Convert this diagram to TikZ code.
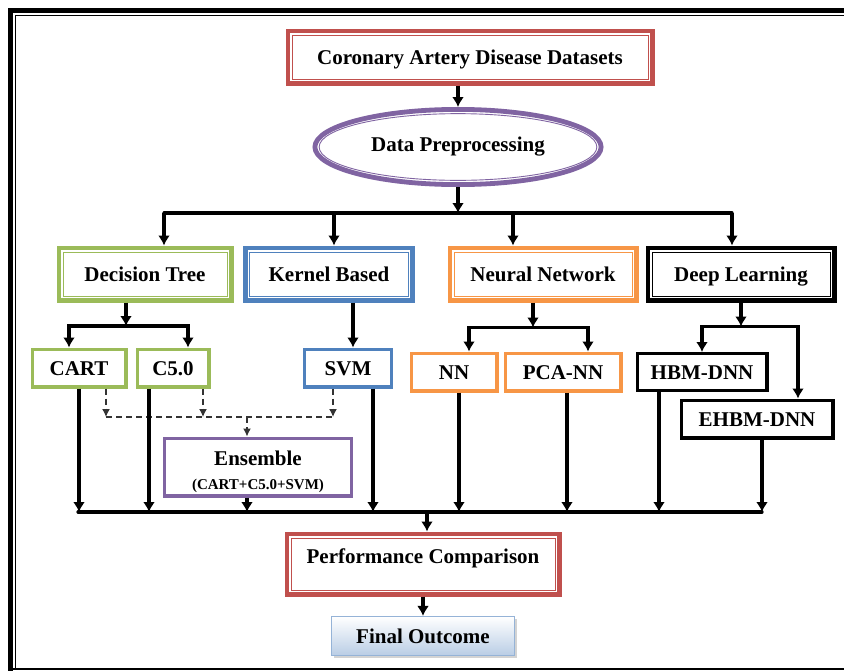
\documentclass[tikz,border=0pt]{standalone}
\usepackage{fontspec}
\setmainfont{Liberation Serif}
\usetikzlibrary{arrows.meta,shapes.geometric,shadows}

\definecolor{cadred}{HTML}{C0504D}
\definecolor{prepviolet}{HTML}{8064A2}
\definecolor{treegreen}{HTML}{9BBB59}
\definecolor{kernelblue}{HTML}{4F81BD}
\definecolor{nnorange}{HTML}{F79646}
\definecolor{outcomeedge}{HTML}{95B3D7}
\definecolor{outcomefill}{HTML}{B9CDE5}

\begin{document}
\begin{tikzpicture}
    [x=1pt, y=-1pt,
    font=\fontsize{21}{24}\selectfont\bfseries,
    ->-/.style={line width=3.2pt, -{Latex[length=10pt,width=12pt]}},
    vote line/.style={line width=1.4pt, black!80, dash pattern=on 6pt off 4pt},
    -->-/.style={vote line, -{Latex[length=8pt,width=8pt]}},
    bus/.style={line width=3.2pt, line cap=round},
    twin/.style={draw=#1, line width=4.8pt, fill=white, inner sep=0pt,
        text height=14pt, text depth=0pt,
        path picture={\draw[#1, line width=0.9pt]
            ([shift={(4.15pt,-4.15pt)}]path picture bounding box.north west) rectangle
            ([shift={(-4.15pt,4.15pt)}]path picture bounding box.south east);}},
    leaf/.style={draw=#1, line width=3.4pt, fill=white, inner sep=0pt,
        minimum height=37.6pt, text height=14pt, text depth=0pt}]
        \useasboundingbox (0,0) rectangle (844,670);

        %% Frame
        \draw[line width=5pt] (10.5,672) -- (10.5,10.5) -- (846,10.5);
        \draw[line width=1.1pt] (15.8,668.5) -- (15.8,15.8) -- (846,15.8);
        \draw[line width=1.6pt] (8,669) -- (846,669);

        %% Data and preprocessing
        \node[twin=cadred, minimum width=364.2pt, minimum height=52.2pt] (cad) at (470,57) {Coronary Artery Disease Datasets};
        \node[ellipse, draw=prepviolet, line width=4.8pt, fill=white, minimum width=286.2pt, minimum height=75.2pt,
            path picture={\draw[prepviolet, line width=0.9pt] (path picture bounding box.center) ellipse [x radius=138.85pt, y radius=33.35pt];}] (prep) at (458,147) {Data Preprocessing};

        %% Model families
        \node[twin=treegreen, minimum width=172.2pt, minimum height=52.2pt] (tree) at (145,274) {Decision Tree};
        \node[twin=kernelblue, minimum width=167.2pt, minimum height=52.2pt, right of=tree, node distance=184pt] (kernel) {Kernel Based};
        \node[twin=nnorange, minimum width=186.2pt, minimum height=52.2pt, right of=kernel, node distance=214pt] (neural) {Neural Network};
        \node[twin=black, minimum width=186.2pt, minimum height=52.2pt, right of=neural, node distance=198pt] (deep) {Deep Learning};

        %% Models
        \node[leaf=treegreen, minimum width=93.6pt] (cart) at (79,368) {CART};
        \node[leaf=treegreen, minimum width=71.6pt, right of=cart, node distance=94pt] (c50) {C5.0};
        \node[leaf=kernelblue, minimum width=86.6pt] (svm) at (348,368) {SVM};
        \node[leaf=nnorange, minimum width=85.6pt] (nn) at (454,372) {NN};
        \node[leaf=nnorange, minimum width=115.6pt, right of=nn, node distance=109pt] (pcann) {PCA-NN};
        \node[leaf=black, minimum width=129.6pt, minimum height=36.6pt] (hbm) at (702,372) {HBM-DNN};
        \node[leaf=black, minimum width=151.6pt] (ehbm) at (757,419) {EHBM-DNN};
        \node[leaf=prepviolet, minimum width=186.6pt, minimum height=57.6pt, text height=, text depth=, align=center] (ens) at (258,467)
            {\rule{0pt}{23.5pt}Ensemble\\{\fontsize{15}{18}\selectfont (CART+C5.0+SVM)}};

        %% Result
        \node[twin=cadred, minimum width=272.2pt, minimum height=60.2pt, text depth=15pt] (perf) at (423,564) {Performance Comparison};
        \node[draw=outcomeedge, line width=1.2pt, top color=white, bottom color=outcomefill,
            drop shadow={shadow xshift=2pt, shadow yshift=-2pt, opacity=0.35},
            minimum width=183pt, minimum height=39pt, inner sep=0pt, text height=14pt, text depth=0pt,
            below of=perf, node distance=72pt] (final) {Final Outcome};

        %% Top arrows
        \draw[->-] (cad.south -| prep.north) -- (prep.north);
        \coordinate (fork) at (458,213);
        \draw[->-] (prep.south) -- (fork);
        \foreach \name/\x in {t/164, k/334, n/513, d/732}
            \coordinate (fork\name) at (\x,213);
        \draw[bus] (forkt) -- (forkd);
        \foreach \f/\b in {forkt/tree, forkk/kernel, forkn/neural, forkd/deep}
            \draw[->-] (\f) -- (\f |- \b.north);

        %% Family to model
        \coordinate (treeout) at ([xshift=-19pt]tree.south);
        \draw[->-] (treeout) -- ++(0,23.5) coordinate (treefork);
        \draw[->-] (treefork) -| ([xshift=-10pt]cart.north);
        \draw[->-] (treefork) -| ([xshift=15pt]c50.north);
        \coordinate (kernelout) at ([xshift=24pt]kernel.south);
        \draw[->-] (kernelout) -- (kernelout |- svm.north);
        \coordinate (neuralout) at ([xshift=-10pt]neural.south);
        \draw[->-] (neuralout) -- ++(0,25) coordinate (neuralfork);
        \draw[->-] (neuralfork) -| ([xshift=15pt]nn.north);
        \draw[->-] (neuralfork) -| ([xshift=25pt]pcann.north);
        \draw[->-] (deep.south) -- ++(0,24) coordinate (deepfork);
        \draw[->-] (deepfork) -| (hbm.north);
        \draw[->-] (deepfork) -| ([xshift=41pt]ehbm.north);

        %% Ensemble votes
        \coordinate (vote) at (247,417);
        \foreach \b/\dx in {cart/27pt, c50/30pt, svm/-15pt}{
            \coordinate (tap\b) at ([xshift=\dx]\b.south);
            \draw[-->-] (tap\b) -- (tap\b |- vote);
        }
        \draw[vote line] (tapcart |- vote) -- (tapsvm |- vote);
        \draw[-->-] (vote) -- (vote |- ens.north);

        %% Merge into comparison
        \coordinate (merge) at (427,512);
        \coordinate (mergeL) at (78,512);
        \coordinate (mergeR) at (762,512);
        \foreach \b/\dx in {cart/0pt, c50/-24pt, ens/-11pt, svm/25pt, nn/5pt, pcann/4pt, hbm/-43pt, ehbm/5pt}{
            \coordinate (drop) at ([xshift=\dx]\b.south);
            \draw[->-] (drop) -- (drop |- merge);
        }
        \draw[bus] (mergeL) -- (mergeR);
        \draw[->-] (merge) -- (merge |- perf.north);
        \draw[->-] (perf.south) -- (perf.south |- final.north);
    \end{tikzpicture}
\end{document}
